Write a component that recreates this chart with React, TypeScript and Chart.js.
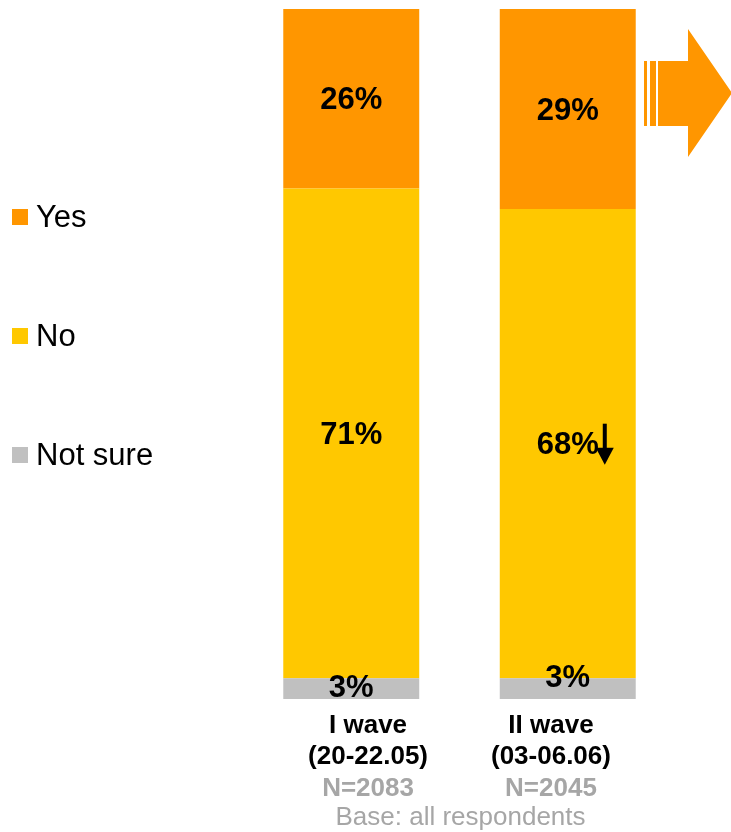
import React, { useEffect, useRef } from "react";
import { Chart, registerables } from "chart.js";

Chart.register(...registerables);

const categories = ["I wave", "II wave"];
const periods = ["(20-22.05)", "(03-06.06)"];
const sampleSizes = ["N=2083", "N=2045"];
const yesValues = [26, 29];
const noValues = [71, 68];
const notSureValues = [3, 3];
const seriesNames = ["Yes", "No", "Not sure"];
const baseNote = "Base: all respondents";

const ORANGE = "#FF9600";
const YELLOW = "#FFC800";
const GREY = "#C0C0C0";
const LABEL_GREY = "#A6A6A6";
const FONT = "'Liberation Sans', Arial, sans-serif";

const overlayPlugin = {
  id: "overlay",
  afterDatasetsDraw(chart: any) {
    const ctx = chart.ctx as CanvasRenderingContext2D;
    const area = chart.chartArea;
    ctx.save();
    // data labels
    ctx.textAlign = "center";
    ctx.textBaseline = "middle";
    ctx.fillStyle = "#000";
    ctx.font = `bold 31px ${FONT}`;
    chart.data.datasets.forEach((ds: any, di: number) => {
      const meta = chart.getDatasetMeta(di);
      meta.data.forEach((bar: any, i: number) => {
        const v = ds.data[i];
        let cy = (bar.y + bar.base) / 2;
        if (ds.label === "Not sure") cy = i === 0 ? cy + 0 : cy - 10;
        else cy += 2;
        const txt = `${v}%`;
        ctx.fillStyle = "#000";
        ctx.fillText(txt, bar.x, cy);
        if (ds.label === "No" && i === 1) {
          const w = ctx.measureText(txt).width;
          const ax = bar.x + w / 2 + 6;
          ctx.fillRect(ax - 2, cy - 22, 4, 26);
          ctx.beginPath();
          ctx.moveTo(ax - 9, cy + 2);
          ctx.lineTo(ax + 9, cy + 2);
          ctx.lineTo(ax, cy + 19);
          ctx.closePath();
          ctx.fill();
        }
      });
    });

    // x labels
    const xs = chart.scales.x;
    const midX = (xs.getPixelForValue(0) + xs.getPixelForValue(1)) / 2;
    categories.forEach((c, i) => {
      const x = midX + (xs.getPixelForValue(i) - midX) * 0.845;
      ctx.font = `bold 26px ${FONT}`;
      ctx.fillStyle = "#000";
      ctx.fillText(c, x, area.bottom + 27);
      ctx.fillText(periods[i], x, area.bottom + 58);
      ctx.fillStyle = LABEL_GREY;
      ctx.fillText(sampleSizes[i], x, area.bottom + 90);
    });
    ctx.font = `26px ${FONT}`;
    ctx.fillStyle = LABEL_GREY;
    ctx.fillText(baseNote, midX + 1, area.bottom + 119);

    // legend
    const colors = [ORANGE, YELLOW, GREY];
    ctx.textAlign = "left";
    ctx.font = `31px ${FONT}`;
    seriesNames.forEach((n, i) => {
      const cy = 217 + i * 119;
      ctx.fillStyle = colors[i];
      ctx.fillRect(12, cy - 8, 16, 16);
      ctx.fillStyle = "#000";
      ctx.fillText(n, 36, cy + 1);
    });

    // big arrow
    const bx = area.right - 32;
    ctx.fillStyle = ORANGE;
    ctx.fillRect(bx, 61, 3, 65);
    ctx.fillRect(bx + 6, 61, 6, 65);
    ctx.beginPath();
    ctx.moveTo(bx + 14, 61);
    ctx.lineTo(bx + 44, 61);
    ctx.lineTo(bx + 44, 29);
    ctx.lineTo(bx + 88, 93);
    ctx.lineTo(bx + 44, 157);
    ctx.lineTo(bx + 44, 126);
    ctx.lineTo(bx + 14, 126);
    ctx.closePath();
    ctx.fill();
    ctx.restore();
  },
};

export default function App() {
  const ref = useRef<HTMLCanvasElement>(null);
  useEffect(() => {
    const chart = new Chart(ref.current!, {
      type: "bar",
      data: {
        labels: categories,
        datasets: [
          { label: "Not sure", data: notSureValues, backgroundColor: GREY },
          { label: "No", data: noValues, backgroundColor: YELLOW },
          { label: "Yes", data: yesValues, backgroundColor: ORANGE },
        ],
      },
      options: {
        animation: false,
        responsive: false,
        devicePixelRatio: 1,
        layout: { padding: { left: 243, right: 55, top: 9, bottom: 133 } },
        datasets: { bar: { categoryPercentage: 1, barPercentage: 0.628 } },
        scales: {
          x: { stacked: true, display: false },
          y: { stacked: true, display: false, min: 0, max: 100 },
        },
        plugins: { legend: { display: false }, tooltip: { enabled: false } },
      },
      plugins: [overlayPlugin],
    } as any);
    return () => chart.destroy();
  }, []);
  return (
    <div style={{ position: "absolute", left: 0, top: 0, width: 731, height: 832 }}>
      <canvas ref={ref} width={731} height={832} />
    </div>
  );
}
